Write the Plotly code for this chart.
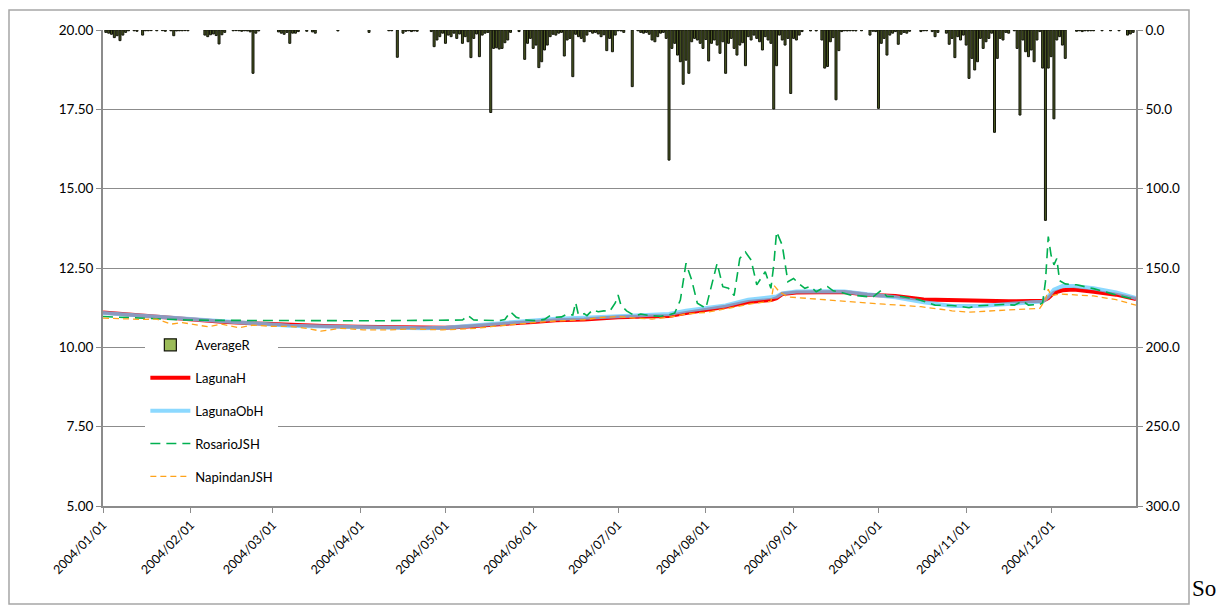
import numpy as np
import pandas as pd
import plotly.graph_objects as go

# ---------------------------------------------------------------
# Data: 2004 daily series, positions given as days after 2004-01-01
# ---------------------------------------------------------------
rain_day = [
    1, 2, 3, 4, 5, 6, 7, 8, 9, 11, 12, 14, 15, 16, 17, 19, 21, 22, 24, 25, 26, 27, 28, 29, 30,
    36, 37, 38, 39, 40, 41, 42, 43, 46, 47, 48, 49, 50, 51, 52, 53, 54, 55,
    62, 63, 64, 65, 66, 67, 68, 69, 72, 74, 75, 83,
    94, 101, 102, 104, 106, 107, 108, 109, 110, 111,
    116, 117, 118, 119, 120, 121, 122, 123, 124, 125, 126, 127, 128, 129, 130, 131, 132, 133, 134,
    135, 136, 137, 138, 139, 140, 141, 142, 143, 144,
    147, 149, 150, 151, 152, 153, 154, 155, 156, 157, 158, 159, 160, 161, 162, 163, 164, 165, 166,
    167, 168, 169, 170, 171, 172, 173, 174, 175, 176, 177, 178, 179, 180, 181,
    182, 183, 184, 187, 189, 190, 191, 192, 193, 194, 195, 196, 197, 198, 199, 200, 201, 202, 203,
    204, 205, 206, 207, 208, 209, 210, 211, 212, 213, 214, 215, 216, 217, 218, 219, 220, 221, 222,
    223, 224, 225, 226, 227, 228, 229, 230, 231, 232, 233, 234, 235, 236, 237, 238, 239, 240, 241,
    242, 243, 244, 245, 246, 247,
    250, 252, 254, 255, 256, 257, 258, 259, 260, 261, 262, 263, 264, 265, 266, 268, 271, 272, 273,
    274, 275, 276, 277, 278, 279, 280, 281, 282, 283, 284, 285, 289, 290, 291, 293, 294, 295,
    298, 299, 300, 301, 302, 303, 304, 305, 306, 307, 308, 309, 310, 311, 312, 313, 314, 315, 316,
    317, 318, 319, 320, 322, 323, 324, 325, 326, 327, 328, 329, 330, 331, 332, 333, 334, 335, 336,
    337, 338, 339, 340,
    344, 345, 346, 347, 348, 349, 350, 353, 356, 359, 362, 363, 364,
]
rain_mm = [
    1.5, 2.0, 2.7, 4.8, 3.6, 6.7, 3.2, 1.5, 0.5, 0.5, 0.8, 3.2, 0.5, 0.5, 0.4, 0.5, 0.4, 0.8, 0.5, 3.6, 0.6, 0.5, 0.5, 0.4, 0.5,
    3.2, 4.2, 3.0, 2.5, 3.5, 8.8, 3.0, 1.5, 0.5, 0.4, 0.5, 0.8, 0.5, 0.6, 1.2, 27.3, 2.0, 0.6,
    1.2, 2.0, 2.7, 1.5, 8.4, 2.0, 2.0, 1.0, 0.8, 1.2, 2.0, 0.6,
    1.5, 0.5, 0.5, 17.2, 2.0, 0.8, 0.5, 1.0, 0.6, 0.8,
    1.0, 10.5, 6.3, 4.2, 2.0, 8.4, 3.2, 4.2, 2.0, 5.3, 2.5, 8.4, 4.2, 7.4, 17.4, 5.3, 2.5, 16.8, 3.2,
    2.0, 1.5, 52.0, 11.6, 11.2, 12.0, 11.6, 8.0, 6.3, 1.5,
    1.0, 18.5, 8.4, 5.3, 11.6, 9.5, 23.7, 20.0, 12.6, 9.5, 4.2, 2.7, 3.2, 2.0, 1.5, 16.4, 6.3, 5.3, 29.4,
    2.7, 4.2, 5.3, 7.4, 3.2, 1.0, 2.0, 1.5, 2.5, 4.2, 3.0, 13.0, 5.3, 13.7, 3.2,
    0.5, 0.6, 1.5, 35.7, 0.5, 1.5, 2.0, 1.5, 2.7, 6.3, 7.4, 4.2, 2.0, 1.5, 5.3, 82.0, 11.6, 8.4, 15.8,
    20.0, 34.2, 19.0, 27.3, 7.4, 5.3, 6.3, 8.4, 11.6, 6.0, 19.5, 8.4, 6.3, 9.5, 14.7, 7.4, 27.3, 8.4, 5.3,
    11.6, 15.8, 9.5, 8.0, 22.5, 4.2, 6.3, 3.2, 5.3, 7.4, 12.6, 4.2, 6.3, 8.4, 49.8, 22.5, 3.2, 6.3, 9.5,
    5.3, 40.0, 5.3, 6.3, 3.2, 1.0,
    0.6, 0.6, 6.3, 24.0, 23.0, 7.4, 4.8, 44.0, 13.0, 1.0, 0.5, 0.6, 0.5, 0.5, 0.6, 0.5, 3.2, 0.8, 1.0,
    49.4, 8.4, 5.3, 15.8, 3.2, 2.0, 1.0, 9.0, 2.7, 1.5, 2.0, 0.8, 1.0, 0.5, 0.5, 1.0, 4.2, 1.5,
    2.0, 9.0, 5.3, 17.4, 4.2, 6.3, 3.2, 9.5, 30.5, 17.9, 25.2, 20.0, 5.3, 11.6, 7.4, 5.3, 2.0, 64.5, 17.9,
    5.3, 6.3, 1.5, 2.0, 0.5, 11.6, 53.6, 6.3, 13.7, 16.8, 12.6, 20.0, 6.3, 1.0, 24.0, 120.0, 24.0, 16.8, 56.0,
    6.3, 4.2, 9.5, 17.9,
    0.8, 0.5, 1.0, 0.5, 0.6, 0.5, 0.5, 0.5, 0.5, 0.5, 3.2, 2.5, 1.5,
]

laguna_day = [0, 10, 19, 31, 42, 55, 66, 78, 90, 101, 113, 121, 129, 137, 145, 152, 160, 170, 182,
              192, 200, 206, 213, 220, 228, 236, 238, 240, 245, 255, 262, 270, 280, 290, 300, 310,
              320, 328, 332, 334, 336, 339, 343, 350, 358, 365]
laguna_h = [11.10, 11.03, 10.97, 10.89, 10.81, 10.75, 10.70, 10.67, 10.65, 10.63, 10.61, 10.62, 10.66,
            10.72, 10.76, 10.80, 10.85, 10.88, 10.95, 10.97, 10.99, 11.08, 11.17, 11.28, 11.43, 11.49,
            11.55, 11.68, 11.73, 11.74, 11.74, 11.66, 11.62, 11.51, 11.49, 11.46, 11.45, 11.46, 11.46,
            11.55, 11.72, 11.80, 11.82, 11.75, 11.66, 11.52]
laguna_obh = [11.08, 11.02, 10.96, 10.88, 10.80, 10.74, 10.68, 10.66, 10.63, 10.61, 10.60, 10.62, 10.68,
              10.75, 10.80, 10.85, 10.90, 10.93, 10.99, 11.01, 11.05, 11.15, 11.22, 11.32, 11.50, 11.57,
              11.60, 11.70, 11.76, 11.77, 11.76, 11.67, 11.58, 11.42, 11.30, 11.30, 11.38, 11.42, 11.44,
              11.60, 11.82, 11.93, 11.93, 11.86, 11.73, 11.55]

rosario_day = [0, 10, 20, 30, 40, 55, 70, 85, 100, 115, 127, 129, 131, 140, 142, 144, 146, 149, 153,
               156, 158, 160, 162, 164, 166, 167, 168, 170, 171, 173, 175, 177, 179, 181, 182, 183,
               185, 188, 190, 193, 197, 200, 202, 204, 206, 208, 210, 213, 215, 217, 219, 221, 223,
               225, 227, 229, 231, 234, 236, 237, 238, 240, 242, 244, 246, 248, 250, 252, 254, 256,
               258, 260, 264, 268, 272, 275, 277, 282, 288, 294, 300, 306, 309, 314, 318, 322, 325,
               327, 331, 332, 333, 334, 335, 336, 337, 338, 340, 344, 350, 356, 365]
rosario_jsh = [10.97, 10.93, 10.90, 10.86, 10.85, 10.84, 10.84, 10.84, 10.84, 10.84, 10.86, 11.00, 10.86,
               10.84, 10.88, 11.12, 10.95, 10.86, 10.84, 10.88, 11.00, 10.95, 10.96, 11.05, 11.02, 11.41,
               11.02, 11.06, 11.00, 11.18, 11.12, 11.15, 11.13, 11.40, 11.65, 11.33, 11.15, 10.99, 11.05,
               11.00, 10.98, 11.02, 11.08, 11.49, 12.65, 12.12, 11.39, 11.23, 11.96, 12.65, 11.91, 11.86,
               11.63, 12.80, 13.00, 12.75, 11.97, 12.38, 11.86, 12.59, 13.64, 13.22, 12.07, 12.17, 12.00,
               11.86, 11.92, 11.75, 11.85, 11.91, 11.78, 11.75, 11.65, 11.62, 11.58, 11.80, 11.60, 11.60,
               11.51, 11.33, 11.32, 11.25, 11.31, 11.33, 11.35, 11.33, 11.46, 11.33, 11.35, 11.40, 12.07,
               13.49, 12.90, 12.60, 12.80, 12.10, 12.00, 11.97, 11.85, 11.70, 11.50]

napindan_day = [0, 6, 14, 19, 24, 28, 33, 37, 42, 48, 53, 60, 66, 72, 77, 84, 92, 101, 108, 113, 120,
                125, 132, 137, 145, 152, 160, 170, 176, 182, 188, 194, 200, 206, 213, 217, 224, 229,
                236, 237, 239, 242, 246, 252, 258, 264, 270, 276, 283, 289, 296, 300, 306, 312, 318,
                324, 331, 333, 334, 335, 338, 346, 350, 358, 365]
napindan_jsh = [10.92, 10.90, 10.88, 10.89, 10.73, 10.78, 10.70, 10.65, 10.73, 10.62, 10.70, 10.66, 10.66,
                10.60, 10.51, 10.60, 10.55, 10.55, 10.58, 10.57, 10.55, 10.57, 10.60, 10.65, 10.73, 10.78,
                10.83, 10.87, 10.94, 10.97, 10.92, 10.89, 10.95, 11.05, 11.10, 11.16, 11.28, 11.37, 11.45,
                11.96, 11.75, 11.59, 11.56, 11.52, 11.49, 11.44, 11.40, 11.36, 11.32, 11.28, 11.20, 11.15,
                11.11, 11.14, 11.18, 11.20, 11.23, 11.50, 11.83, 11.62, 11.68, 11.64, 11.62, 11.50, 11.33]

assert len(rain_day) == len(rain_mm)
assert len(laguna_day) == len(laguna_h) == len(laguna_obh)
assert len(rosario_day) == len(rosario_jsh)
assert len(napindan_day) == len(napindan_jsh)

START = pd.Timestamp("2004-01-01")


def to_dates(days):
    return START + pd.to_timedelta(np.asarray(days), unit="D")


FONT = "Lato, Carlito, Calibri, 'Open Sans', sans-serif"
GRID = "#8C8C8C"
BAR_EDGE = "#121409"

fig = go.Figure()

# rainfall bars hang from the top on the reversed right-hand axis;
# the narrow daily bars read as dark olive, the legend key shows the fill colour
fig.add_trace(go.Bar(
    x=to_dates(rain_day), y=rain_mm, name="AverageR", yaxis="y2",
    marker=dict(color="#4B5A22", line=dict(color=BAR_EDGE, width=1.0)),
    legendgroup="a", showlegend=False,
))
fig.add_trace(go.Bar(
    x=[None], y=[None], name="AverageR", yaxis="y2",
    marker=dict(color="#9BBB59", line=dict(color=BAR_EDGE, width=1.2)),
    legendgroup="a", showlegend=True,
))
fig.add_trace(go.Scatter(
    x=to_dates(laguna_day), y=laguna_h, name="LagunaH", mode="lines",
    line=dict(color="#FF0000", width=4), legendgroup="b",
))
fig.add_trace(go.Scatter(
    x=to_dates(laguna_day), y=laguna_obh, name="LagunaObH", mode="lines",
    line=dict(color="#66CCFF", width=4), opacity=0.75, legendgroup="c",
))
fig.add_trace(go.Scatter(
    x=to_dates(rosario_day), y=rosario_jsh, name="RosarioJSH", mode="lines",
    line=dict(color="#00B050", width=1.6, dash="10px,6px"), legendgroup="d",
))
fig.add_trace(go.Scatter(
    x=to_dates(napindan_day), y=napindan_jsh, name="NapindanJSH", mode="lines",
    line=dict(color="#FFA31A", width=1.3, dash="6px,4px"), legendgroup="e",
))

fig.update_layout(
    width=1217, height=608,
    margin=dict(l=103, r=81, t=30, b=102),
    paper_bgcolor="white", plot_bgcolor="white",
    font=dict(family=FONT, size=13, color="#000000"),
    bargap=0.3, barmode="overlay",
    showlegend=True,
    legend=dict(
        x=0.041, y=0.37, xanchor="left", yanchor="top",
        bgcolor="white", borderwidth=0,
        font=dict(family=FONT, size=13, color="#000000"),
        tracegroupgap=13, itemwidth=40, traceorder="grouped",
    ),
    xaxis=dict(
        type="date",
        range=["2004-01-01", "2004-12-31"],
        tick0="2004-01-01", dtick="M1", tickformat="%Y/%m/%d",
        tickangle=-45, tickfont=dict(size=12.5),
        showgrid=False, zeroline=False,
        showline=True, linecolor=GRID, linewidth=1.5,
        ticks="outside", ticklen=5, tickcolor=GRID,
    ),
    yaxis=dict(
        range=[5, 20], dtick=2.5, tick0=5, tickformat=".2f",
        tickfont=dict(size=13.5),
        showgrid=True, gridcolor=GRID, gridwidth=1, zeroline=False,
        showline=True, linecolor=GRID, linewidth=2,
        ticks="outside", ticklen=5, tickcolor=GRID,
    ),
    yaxis2=dict(
        overlaying="y", side="right",
        range=[300, 0], dtick=50, tick0=0, tickformat=".1f",
        tickfont=dict(size=13.5),
        showgrid=False, zeroline=False,
        showline=True, linecolor=GRID, linewidth=1.5,
        ticks="outside", ticklen=5, tickcolor=GRID,
    ),
    shapes=[
        dict(type="rect", xref="paper", yref="paper",
             x0=-0.0910, x1=1.0513, y0=-0.2060, y1=1.0420,
             line=dict(color="#A6A6A6", width=1.5), fillcolor="rgba(0,0,0,0)"),
    ],
    annotations=[
        dict(text="So", xref="paper", yref="paper", x=1.0525, y=-0.2045,
             xanchor="left", yanchor="bottom", showarrow=False,
             font=dict(family="'Liberation Serif', 'Times New Roman', serif", size=23, color="#000000")),
    ],
)

fig.write_html("out.html")
